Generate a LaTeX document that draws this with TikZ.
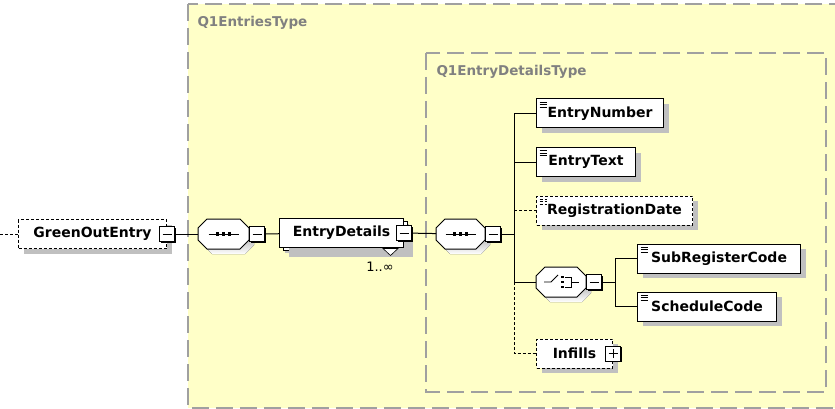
\documentclass[tikz,border=0pt]{standalone}
\usepackage{fontspec}
\newfontfamily\diagfont{DejaVu Sans}
\usetikzlibrary{shadows}

\definecolor{typefill}{RGB}{255,255,200}
\definecolor{typeline}{RGB}{160,160,160}
\definecolor{typetext}{RGB}{128,128,128}
\definecolor{shade}{RGB}{192,192,192}

\begin{document}
\begin{tikzpicture}[x=1pt, y=-1pt, line width=1pt,
  typebox/.style={draw=typeline, line width=1.6pt, dash pattern=on 17pt off 7pt},
  typename/.style={anchor=west, inner sep=0pt, text=typetext,
    font=\diagfont\fontsize{13.5}{15}\selectfont\bfseries},
  elem/.style={draw, fill=white, anchor=west, minimum height=29pt, inner sep=0pt,
    font=\diagfont\fontsize{14}{16}\selectfont\bfseries,
    drop shadow={shadow xshift=5pt, shadow yshift=-5pt, fill=shade, opacity=1}},
  optional/.style={dash pattern=on 3pt off 2pt},
  simple/.style={path picture={
    \foreach \k in {3,5.5,8}
      \draw[line width=0.8pt] ([shift={(3,\k)}]path picture bounding box.north west) -- +(7,0);}},
  compositor/.style={anchor=west, minimum height=29pt, inner sep=0pt},
  toggle/.style={draw, fill=white, minimum size=15pt, inner sep=0pt,
    drop shadow={shadow xshift=1.2pt, shadow yshift=-1.2pt, fill=black, opacity=1}},
  collapse/.style={toggle, path picture={
    \draw ([xshift=3pt]path picture bounding box.west) -- ([xshift=-3pt]path picture bounding box.east);}},
  expand/.style={toggle, path picture={
    \draw ([xshift=3pt]path picture bounding box.west) -- ([xshift=-3pt]path picture bounding box.east);
    \draw ([yshift=3pt]path picture bounding box.south) -- ([yshift=-3pt]path picture bounding box.north);}},
  multiplicity/.style={inner sep=0pt, font=\diagfont\fontsize{13}{15}\selectfont}
]
  \useasboundingbox (0,0) rectangle (835,409);
  \clip (0,0) rectangle (835,409);

  % Draw the complex type areas
  \fill[typefill] (188,4) rectangle (845,408);
  \draw[typebox] (188,4) rectangle (845,408);
  \node[typename] (outername) at (197,23) {Q1EntriesType};
  \draw[typebox] (426,53) rectangle (826,392);
  \node[typename] (innername) at (436,72) {Q1EntryDetailsType};

  % Draw the root element
  \coordinate (stub) at (0,234);
  \node[elem, optional, minimum width=148pt] (root) at (18,234) {GreenOutEntry};
  \node[collapse] (rootbox) at (root.east) {};
  \draw[optional] (stub) -- (root);

  % Place the compositors
  \node[compositor, minimum width=50pt] (seqA) at (198,234) {};
  \node[compositor, minimum width=48pt] (seqB) at (436,234) {};
  \node[compositor, minimum width=49pt] (choice) at (536,282) {};

  % Draw the octagons round them
  \foreach \c in {seqA,seqB,choice} {
    \fill[shade, transform canvas={xshift=5pt, yshift=-5pt}]
      ([xshift=9pt]\c.north west) -- ([xshift=-9pt]\c.north east)
      -- ([yshift=-9pt]\c.north east) -- ([yshift=9pt]\c.south east)
      -- ([xshift=-9pt]\c.south east) -- ([xshift=9pt]\c.south west)
      -- ([yshift=9pt]\c.south west) -- ([yshift=-9pt]\c.north west) -- cycle;
    \draw[fill=white]
      ([xshift=9pt]\c.north west) -- ([xshift=-9pt]\c.north east)
      -- ([yshift=-9pt]\c.north east) -- ([yshift=9pt]\c.south east)
      -- ([xshift=-9pt]\c.south east) -- ([xshift=9pt]\c.south west)
      -- ([yshift=9pt]\c.south west) -- ([yshift=-9pt]\c.north west) -- cycle;
  }
  \node[collapse, anchor=west] (seqAbox) at (seqA.east) {};
  \node[collapse, anchor=west] (seqBbox) at (seqB.east) {};
  \node[collapse, anchor=west] (choicebox) at (choice.east) {};
  \draw (rootbox) -- (seqA);

  % Draw the repeated element
  \node[elem, minimum width=124pt,
    copy shadow={shadow xshift=4pt, shadow yshift=-3pt, draw=black, fill=white},
    drop shadow={shadow xshift=9pt, shadow yshift=-9pt, fill=shade, opacity=1}]
    (details) at (279,233) {EntryDetails};
  \node[collapse] (detailsbox) at (details.east) {};
  \draw[fill=white, line width=0.6pt] ([xshift=-21pt,yshift=-0.5pt]details.south east)
    -- ++(15,0) -- ++(-7.5,7) -- cycle;
  \node[multiplicity] (occurs) at (380,267) {1..∞};
  \draw (seqAbox) -- (details);
  \draw (detailsbox) -- (seqB);

  % Draw the sequence symbols
  \foreach \s in {seqA,seqB} {
    \draw ([xshift=-15pt]\s.center) -- ([xshift=15pt]\s.center);
    \foreach \d in {-6,0,6}
      \fill ([xshift=\d pt]\s.center) +(-1.6,-1.6) rectangle +(1.6,1.6);
  }

  % Draw the children of the sequence
  \node[elem, simple, minimum width=127pt] (number) at (536,113.5) {EntryNumber};
  \node[elem, simple, minimum width=99pt] (text) at (536,162) {EntryText};
  \node[elem, simple, optional, minimum width=156pt] (regdate) at (536,210.5) {RegistrationDate};
  \node[elem, optional, minimum width=76pt] (infills) at (536,353.5) {Infills};
  \node[expand] (infillsbox) at (infills.east) {};

  \coordinate (spine) at (514,234);
  \draw (seqBbox) -- (spine);
  \draw (spine |- number) -- (spine |- choice);
  \draw (spine |- number) -- (number);
  \draw (spine |- text) -- (text);
  \draw[optional] (spine |- regdate) -- (regdate);
  \draw (spine |- choice) -- (choice);
  \draw[optional] (spine |- choice) -- (spine |- infills) -- (infills);

  % Draw the choice symbol
  \draw[line width=0.9pt] ([xshift=-17pt]choice.center) -- ([xshift=-10pt]choice.center)
    -- ([shift={(-3,-7)}]choice.center);
  \foreach \d in {-5,0,5}
    \fill ([shift={(1.5,\d)}]choice.center) +(-1.3,-1.3) rectangle +(1.3,1.3);
  \draw[line width=0.9pt] ([shift={(4,-5)}]choice.center) -- ++(6,0) -- ++(0,10) -- ++(-6,0);
  \draw[line width=0.9pt] ([xshift=10pt]choice.center) -- ([xshift=18pt]choice.center);

  % Draw the children of the choice
  \node[elem, simple, minimum width=163pt] (subreg) at (637,258.5) {SubRegisterCode};
  \node[elem, simple, minimum width=139pt] (sched) at (637,306.5) {ScheduleCode};

  \coordinate (fork) at (615,282);
  \draw (choicebox) -- (fork);
  \draw (fork |- subreg) -- (fork |- sched);
  \draw (fork |- subreg) -- (subreg);
  \draw (fork |- sched) -- (sched);
\end{tikzpicture}
\end{document}
